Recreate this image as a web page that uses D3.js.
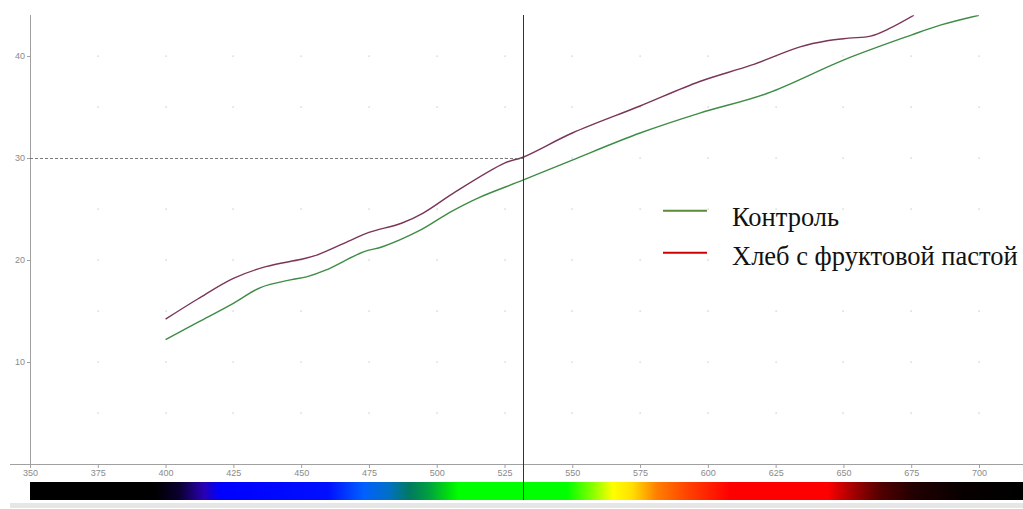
<!DOCTYPE html>
<html>
<head>
    <meta charset="utf-8" />
    <title>Спектр</title>
    <script src="https://d3js.org/d3.v7.min.js"></script>
    <style>
        body { margin: 0; background: #fff; }
        .tick text { font-family: "Liberation Sans", Arial, sans-serif; font-size: 9px; fill: #8a8a8a; }
        .legend text { font-family: "Liberation Serif", "Times New Roman", serif; font-size: 26.5px; fill: #111; }
    </style>
</head>
<body>
    <svg id="chart" width="1023" height="509"></svg>

    <script>

        // wavelength, nm / value
        var controlNm = [400, 412, 425, 435, 446, 452, 459, 473, 480, 493, 505, 515, 532, 550, 575, 597, 622, 650, 675, 686, 700];
        var controlVal = [12.2, 13.9, 15.75, 17.3, 18.05, 18.35, 19.0, 20.8, 21.3, 22.8, 24.7, 26.05, 27.85, 29.8, 32.45, 34.4, 36.35, 39.6, 42.05, 43.05, 44.0];

        var pasteNm = [400, 412, 425, 437, 450, 456, 468, 475, 487, 495, 507, 525, 532, 550, 575, 597, 616, 634, 644, 652, 660, 667, 676];
        var pasteVal = [14.2, 16.2, 18.2, 19.35, 20.07, 20.5, 21.9, 22.7, 23.6, 24.6, 26.7, 29.5, 30.1, 32.45, 35.1, 37.5, 39.1, 40.9, 41.5, 41.75, 41.95, 42.7, 44.0];

        var seriesNames = ["Контроль", "Хлеб с фруктовой пастой"];

        var xTicks = [350, 375, 400, 425, 450, 475, 500, 525, 550, 575, 600, 625, 650, 675, 700];
        var yTicks = [10, 20, 30, 40];
        var gridY = [5, 10, 15, 20, 25, 30, 35, 40];

        var markerNm = 532;
        var markerVal = 30;

        var spectrumNm = [350, 396, 405, 414, 420, 460, 473, 482, 490, 497, 504, 508, 548, 557, 565, 572, 581, 593, 608, 644, 654, 664, 676, 694, 717];
        var spectrumColors = ["#000000", "#000000", "#0a0030", "#2a00b0", "#0000ff", "#0010ff", "#0060ff", "#0070c8", "#007a60", "#00a040", "#00dc10", "#00ff00", "#00ff00", "#80ff00", "#ffff00", "#ffe000", "#ff8000", "#ff4000", "#ff0000", "#ff0000", "#a00000", "#500000", "#220000", "#080000", "#000000"];

        var svg = d3.select("#chart");

        var x = d3.scaleLinear().domain([350, 700]).range([30, 979]);
        var y = d3.scaleLinear().domain([0, 44]).range([464, 15.2]);

        // grid dots
        var dots = [];
        xTicks.slice(1).forEach(function (nm) {
            gridY.forEach(function (v) { dots.push([nm, v]); });
        });
        svg.append("g").selectAll("rect")
            .data(dots)
            .enter().append("rect")
            .attr("x", function (d) { return Math.round(x(d[0])) - 0.5; })
            .attr("y", function (d) { return Math.round(y(d[1])) - 0.5; })
            .attr("width", 1.2)
            .attr("height", 1.2)
            .attr("fill", "#c4c4c4");

        // axes
        var xAxis = svg.append("g")
            .attr("transform", "translate(0," + y(0) + ")")
            .call(d3.axisBottom(x).tickValues(xTicks).tickSize(4).tickPadding(2).tickSizeOuter(0));
        xAxis.select(".domain").attr("d", "M10,0.5H1023").attr("stroke", "#a0a0a0");
        xAxis.selectAll(".tick line").attr("stroke", "#a0a0a0");

        var yAxis = svg.append("g")
            .attr("transform", "translate(" + x(350) + ",0)")
            .call(d3.axisLeft(y).tickValues(yTicks).tickSize(3).tickPadding(2).tickSizeOuter(0));
        yAxis.select(".domain").attr("d", "M0.5,15V468").attr("stroke", "#a0a0a0");
        yAxis.selectAll(".tick line").attr("stroke", "#a0a0a0");

        // spectrum bar
        var grad = svg.append("defs").append("linearGradient")
            .attr("id", "spectrum")
            .attr("gradientUnits", "userSpaceOnUse")
            .attr("x1", x(350)).attr("x2", 1023)
            .attr("y1", 0).attr("y2", 0);
        grad.selectAll("stop")
            .data(spectrumNm)
            .enter().append("stop")
            .attr("offset", function (d) { return Math.min(1, (x(d) - x(350)) / (1023 - x(350))); })
            .attr("stop-color", function (d, i) { return spectrumColors[i]; });

        svg.append("rect")
            .attr("x", x(350)).attr("y", 482)
            .attr("width", 1023 - x(350)).attr("height", 18)
            .attr("fill", "url(#spectrum)");

        svg.append("rect")
            .attr("x", 10).attr("y", 503)
            .attr("width", 1013).attr("height", 5)
            .attr("fill", "#e6e6e6");

        // curves
        svg.append("clipPath").attr("id", "plot")
            .append("rect").attr("x", x(350)).attr("y", y(44)).attr("width", 1000).attr("height", y(0) - y(44));

        var line = d3.line()
            .x(function (d) { return x(d[0]); })
            .y(function (d) { return y(d[1]); })
            .curve(d3.curveCatmullRom.alpha(0.5));

        var controlData = controlNm.map(function (nm, i) { return [nm, controlVal[i]]; });
        var pasteData = pasteNm.map(function (nm, i) { return [nm, pasteVal[i]]; });

        var curves = svg.append("g").attr("clip-path", "url(#plot)");
        curves.append("path")
            .attr("d", line(controlData))
            .attr("fill", "none")
            .attr("stroke", "#3e8c46")
            .attr("stroke-width", 1.4);
        curves.append("path")
            .attr("d", line(pasteData))
            .attr("fill", "none")
            .attr("stroke", "#7a3558")
            .attr("stroke-width", 1.4);

        // marker lines
        svg.append("line")
            .attr("x1", x(350)).attr("x2", x(markerNm))
            .attr("y1", Math.round(y(markerVal)) + 0.5).attr("y2", Math.round(y(markerVal)) + 0.5)
            .attr("stroke", "#7a7a7a")
            .attr("stroke-dasharray", "3,2");

        svg.append("line")
            .attr("x1", Math.round(x(markerNm)) + 0.5).attr("x2", Math.round(x(markerNm)) + 0.5)
            .attr("y1", 15).attr("y2", 500)
            .attr("stroke", "#333")
            .attr("stroke-width", 1);

        // legend
        var legendColors = ["#5a8a3a", "#d00000"];
        var legendLineY = [210.7, 252.7];
        var legendTextY = [226, 265];
        var legend = svg.append("g").attr("class", "legend");
        var items = legend.selectAll("g")
            .data(seriesNames)
            .enter().append("g");
        items.append("line")
            .attr("x1", 663).attr("x2", 707)
            .attr("y1", function (d, i) { return legendLineY[i]; })
            .attr("y2", function (d, i) { return legendLineY[i]; })
            .attr("stroke", function (d, i) { return legendColors[i]; })
            .attr("stroke-width", 2);
        items.append("text")
            .attr("x", 732)
            .attr("y", function (d, i) { return legendTextY[i]; })
            .text(function (d) { return d; });

    </script>
</body>
</html>
